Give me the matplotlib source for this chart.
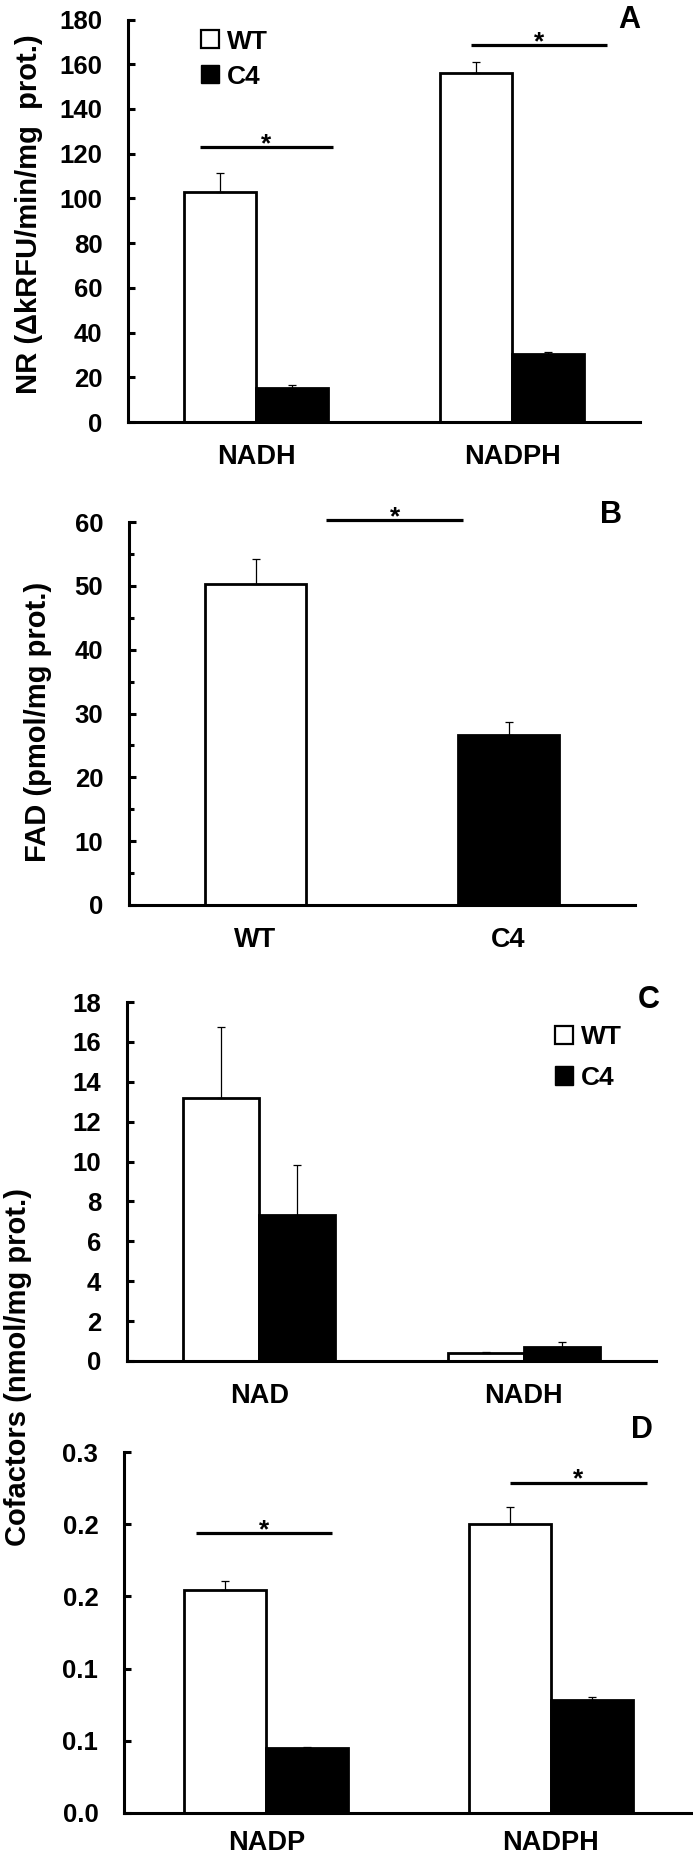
import matplotlib
matplotlib.use("Agg")
import matplotlib.pyplot as plt
from matplotlib.patches import Patch
import numpy as np

plt.rcParams['font.family'] = ['Liberation Sans', 'DejaVu Sans']
plt.rcParams['font.weight'] = 'bold'

W, H = 693, 1857

# A: nitroreductase activity
nr_cats = ["NADH", "NADPH"]
nr_wt = [102.8, 156.0]
nr_wt_err = [8.6, 5.2]
nr_c4 = [15.2, 30.2]
nr_c4_err = [1.2, 1.3]
nr_sig = [(-0.22, 0.30, 123.0), (0.84, 1.37, 168.6)]

# B: FAD
fad_cats = ["WT", "C4"]
fad_vals = [50.3, 26.6]
fad_err = [3.9, 2.1]
fad_sig = [(0.28, 0.82, 60.3)]

# C: NAD / NADH
nad_cats = ["NAD", "NADH"]
nad_wt = [13.17, 0.42]
nad_wt_err = [3.6, 0.02]
nad_c4 = [7.34, 0.69]
nad_c4_err = [2.5, 0.26]

# D: NADP / NADPH
nadp_cats = ["NADP", "NADPH"]
nadp_wt = [0.185, 0.2405]
nadp_wt_err = [0.008, 0.0138]
nadp_c4 = [0.054, 0.094]
nadp_c4_err = [0.001, 0.002]
nadp_sig = [(-0.248, 0.232, 0.2327), (0.856, 1.337, 0.2746)]

fig = plt.figure(figsize=(W / 100, H / 100), dpi=100)


def px_axes(left, right, top, bottom):
    return fig.add_axes([left / W, 1 - bottom / H, (right - left) / W, (bottom - top) / H])


def style(ax, ymax, ticks, xpad=16):
    for s in ['top', 'right']:
        ax.spines[s].set_visible(False)
    for s in ['left', 'bottom']:
        ax.spines[s].set_linewidth(2.2)
    ax.set_xlim(-0.5, 1.5)
    ax.set_ylim(0, ymax)
    ax.set_yticks(ticks)
    ax.tick_params(axis='y', direction='in', length=5, width=2.2, pad=18.5, labelsize=18.5)
    ax.tick_params(axis='x', length=0, pad=xpad, labelsize=19.5)


err_kw = dict(elinewidth=0.9, capsize=3.2, capthick=0.9, ecolor='black')


def grouped(ax, cats, wt, wt_err, c4, c4_err, w):
    x = np.arange(len(cats))
    ax.bar(x - w / 2, wt, w, color='white', edgecolor='black', linewidth=2,
           yerr=[np.zeros(len(wt)), wt_err], error_kw=err_kw, label='WT')
    ax.bar(x + w / 2, c4, w, color='black', edgecolor='black', linewidth=2,
           yerr=[np.zeros(len(c4)), c4_err], error_kw=err_kw, label='C4')
    ax.set_xticks(x)
    ax.set_xticklabels(cats)


def sig(ax, lines):
    for x0, x1, y in lines:
        ax.plot([x0, x1], [y, y], color='black', lw=2.3, solid_capstyle='butt', clip_on=False)
        ax.annotate('*', xy=((x0 + x1) / 2, y), xytext=(0, -3), textcoords='offset points',
                    ha='center', va='baseline', fontsize=19, annotation_clip=False)


def legend(ax, x, y, spacing):
    handles = [Patch(facecolor='white', edgecolor='black', linewidth=1.6, label='WT'),
               Patch(facecolor='black', edgecolor='black', label='C4')]
    ax.legend(handles=handles, loc='upper left', bbox_to_anchor=(x, y), frameon=False,
              fontsize=19, handlelength=0.68, handleheight=0.68, handletextpad=0.3,
              labelspacing=spacing, borderpad=0, borderaxespad=0)


def letter(s, x, y):
    fig.text(x / W, 1 - y / H, s, ha='right', va='baseline', fontsize=22)


def ylabel(s, x, y):
    fig.text(x / W, 1 - y / H, s, rotation=90, ha='center', va='center', fontsize=21)


# A
axA = px_axes(128, 640, 19.5, 422)
grouped(axA, nr_cats, nr_wt, nr_wt_err, nr_c4, nr_c4_err, 0.28)
style(axA, 180, np.arange(0, 181, 20))
sig(axA, nr_sig)
legend(axA, 0.143, 0.975, 0.42)
ylabel("NR (ΔkRFU/min/mg  prot.)", 29, 214)
letter("A", 640, 28)

# B
axB = px_axes(129, 635, 522, 905)
xb = np.arange(len(fad_cats))
axB.bar(xb, fad_vals, 0.40, color=['white', 'black'], edgecolor='black', linewidth=2,
        yerr=[np.zeros(len(fad_vals)), fad_err], error_kw=err_kw)
axB.set_xticks(xb)
axB.set_xticklabels(fad_cats)
style(axB, 60, np.arange(0, 61, 10))
axB.set_yticks(np.arange(5, 60, 10), minor=True)
axB.tick_params(axis='y', which='minor', direction='in', length=3.6, width=2.2)
sig(axB, fad_sig)
ylabel("FAD (pmol/mg prot.)", 38, 722)
letter("B", 622, 523)

# C
axC = px_axes(127, 656, 1002, 1361)
grouped(axC, nad_cats, nad_wt, nad_wt_err, nad_c4, nad_c4_err, 0.287)
style(axC, 18, np.arange(0, 19, 2))
legend(axC, 0.809, 0.935, 0.62)
letter("C", 660, 1008)

# D
axD = px_axes(124, 693, 1452, 1813)
grouped(axD, nadp_cats, nadp_wt, nadp_wt_err, nadp_c4, nadp_c4_err, 0.288)
style(axD, 0.3, np.linspace(0, 0.3, 6), xpad=12.5)
axD.yaxis.set_major_formatter(matplotlib.ticker.FormatStrFormatter('%.1f'))
sig(axD, nadp_sig)
letter("D", 653, 1438)

ylabel("Cofactors (nmol/mg prot.)", 18, 1367)

fig.savefig("out.png", dpi=100)
